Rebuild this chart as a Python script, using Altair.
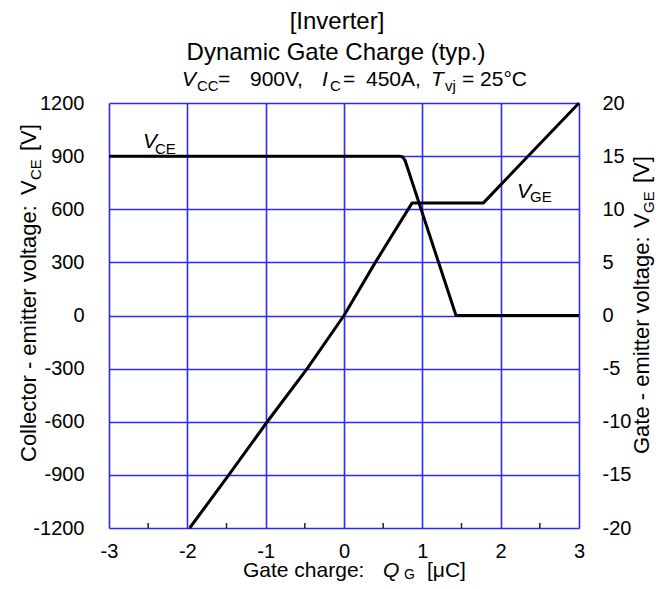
import altair as alt
import pandas as pd

# ---- data ----
qg_vce = [-3.0, 0.71, 0.75, 0.78, 1.43, 3.0]
vce = [900, 900, 895, 875, 0, 0]
qg_vge = [-1.97, -1.47, -0.98, -0.47, 0.0, 0.40, 0.87, 1.78, 3.0]
vge = [-20, -15, -10, -5, 0, 5, 10.6, 10.6, 20]
x_ticks = [-3, -2, -1, 0, 1, 2, 3]
x_minor = [-2.5, -1.5, -0.5, 0.5, 1.5, 2.5]
vce_ticks = [-1200, -900, -600, -300, 0, 300, 600, 900, 1200]
vge_ticks = [-20, -15, -10, -5, 0, 5, 10, 15, 20]

W, H = 470, 425
FONT = "Liberation Sans"
GRID = "#2a2aff"

df_vce = pd.DataFrame({"qg": qg_vce, "v": vce})
df_vge = pd.DataFrame({"qg": qg_vge, "v": vge})
df_minor = pd.DataFrame({"qg": x_minor})

xscale = alt.Scale(domain=[-3, 3], nice=False, zero=False)
x_axis = alt.Axis(values=x_ticks, title=None, grid=True, gridColor=GRID, gridWidth=1.6,
                  ticks=False, tickSize=0, domain=False, labelFontSize=20, labelFont=FONT,
                  labelColor="black", labelPadding=13, labelFlush=False,
                  labelExpr="'' + datum.value")

vce_line = alt.Chart(df_vce).mark_line(color="black", strokeWidth=3, strokeJoin="round").encode(
    x=alt.X("qg:Q", scale=xscale, axis=x_axis),
    y=alt.Y("v:Q", scale=alt.Scale(domain=[-1200, 1200], nice=False, zero=False),
            axis=alt.Axis(values=vce_ticks, orient="left", title=None, grid=True, gridColor=GRID,
                          gridWidth=1.6, ticks=False, tickSize=0, domain=False, labelFontSize=20,
                          labelFont=FONT, labelColor="black", labelPadding=25, labelFlush=False,
                          labelExpr="'' + datum.value")),
)

vge_line = alt.Chart(df_vge).mark_line(color="black", strokeWidth=3, strokeJoin="round").encode(
    x=alt.X("qg:Q", scale=xscale, axis=x_axis),
    y=alt.Y("v:Q", scale=alt.Scale(domain=[-20, 20], nice=False, zero=False),
            axis=alt.Axis(values=vge_ticks, orient="right", title=None, grid=False,
                          ticks=False, tickSize=0, domain=False, labelFontSize=20,
                          labelFont=FONT, labelColor="black", labelPadding=23, labelAlign="left",
                          labelFlush=False, labelExpr="'' + datum.value")),
)

minor = alt.Chart(df_minor).mark_rule(color="#222222", strokeWidth=1.5).encode(
    x=alt.X("qg:Q", scale=xscale, axis=x_axis),
    y=alt.value(H), y2=alt.value(H - 5),
)

one = pd.DataFrame({"a": [0]})


def txt(s, x, y, size, italic=False, angle=0, align="left"):
    kw = dict(text=s, align=align, baseline="alphabetic", font=FONT, fontSize=size, color="black")
    if italic:
        kw["fontStyle"] = "italic"
    if angle:
        kw["angle"] = angle
    return alt.Chart(one).mark_text(**kw).encode(x=alt.value(x), y=alt.value(y))


texts = [
    # title
    txt("[Inverter]", 228, -74, 24, align="center"),
    txt("Dynamic Gate Charge (typ.)", 227, -43, 24, align="center"),
    txt("V", 73, -17, 21, italic=True),
    txt("CC", 88, -12, 15),
    txt("=", 109, -17, 21),
    txt("900V,", 141, -17, 21),
    txt("I", 213, -17, 21, italic=True),
    txt("C", 221, -12, 15),
    txt("=", 234, -17, 21),
    txt("450A,", 257, -17, 21),
    txt("T", 322, -17, 21, italic=True),
    txt("vj", 336, -12, 15),
    txt("= 25°C", 353, -17, 21),
    # x axis title
    txt("Gate charge:", 134, 474, 21),
    txt("Q", 274, 474, 21, italic=True),
    txt("G", 295, 476, 14),
    txt("[μC]", 318, 474, 21),
    # left axis title (rotated)
    txt("Collector - emitter voltage:", -73, 359, 22, angle=270),
    txt("V", -73, 92, 22, angle=270),
    txt("CE", -68, 77, 15, angle=270),
    txt("[V]", -73, 48, 22, angle=270),
    # right axis title (rotated)
    txt("Gate - emitter voltage:", 540, 351, 22, angle=270),
    txt("V", 540, 125, 22, angle=270),
    txt("GE", 545, 110, 15, angle=270),
    txt("[V]", 540, 80, 22, angle=270),
    # curve labels
    txt("V", 34, 45, 21, italic=True),
    txt("CE", 46, 51, 15),
    txt("V", 408, 95, 21, italic=True),
    txt("GE", 421, 99, 15),
]

chart = alt.layer(vce_line, vge_line, minor, *texts).resolve_scale(y="independent").properties(
    width=W, height=H,
    padding={"left": 101, "top": 95, "right": 77, "bottom": 53},
    autosize=alt.AutoSizeParams(type="none"),
).configure_view(stroke="#141432", strokeWidth=2).configure(background="white")

chart.save("out.html", embed_options={"renderer": "svg", "actions": False})
